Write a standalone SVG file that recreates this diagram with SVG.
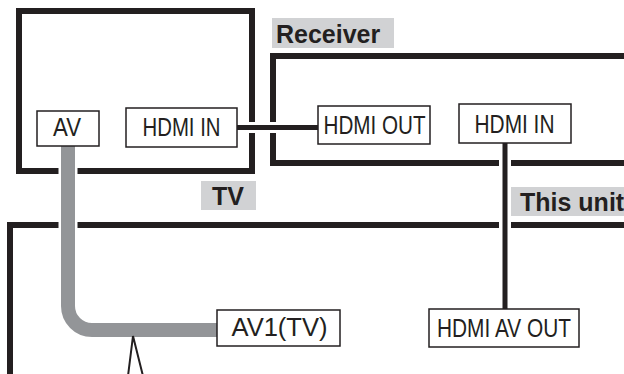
<svg xmlns="http://www.w3.org/2000/svg" width="624" height="374" viewBox="0 0 624 374">
<style>
.frame{fill:none;stroke:#231f20;stroke-width:6}
.port rect{fill:#fff;stroke:#231f20;stroke-width:1.5}
.port text{font-family:"Liberation Sans",Arial,sans-serif;font-size:26px;fill:#231f20;text-anchor:middle}
.tag rect{fill:#d1d2d4}
.tag text{font-family:"Liberation Sans",Arial,sans-serif;font-size:25px;font-weight:bold;fill:#231f20}
.halo{fill:none;stroke:#fff}
.hdmi{fill:none;stroke:#231f20;stroke-width:5}
.av{fill:none;stroke:#939598;stroke-width:14}
</style>
<rect width="624" height="374" fill="#fff"/>
<g id="tv">
<rect class="frame" x="19" y="11" width="233" height="160"/>
<g class="tag"><rect x="201" y="181" width="55" height="29"/><text x="212" y="205">TV</text></g>
</g>
<g id="receiver">
<rect class="frame" x="273" y="56" width="400" height="107"/>
<g class="tag"><rect x="272" y="18" width="122" height="30"/><text x="276" y="43">Receiver</text></g>
</g>
<g id="this-unit">
<path class="frame" d="M10,374 V225 H630"/>
<g class="tag"><rect x="510" y="187" width="120" height="29"/><text x="520" y="211">This unit</text></g>
</g>
<g id="connectors">
<path class="halo" stroke-width="19" d="M68,146 V306 A24,24 0 0 0 92,330 H217"/>
<path class="av" d="M68,146 V306 A24,24 0 0 0 92,330 H217"/>
<path class="halo" stroke-width="11" d="M237,127.5 H318"/>
<path class="hdmi" d="M237,127.5 H318"/>
<path class="halo" stroke-width="12" d="M505,143 V309"/>
<path class="hdmi" d="M505,143 V309"/>
<path fill="none" stroke="#231f20" stroke-width="2" d="M128,376 L133,336 L143,376"/>
</g>
<g id="tv-av" class="port"><rect x="37" y="111" width="62" height="35"/><text x="67" y="136" textLength="28" lengthAdjust="spacingAndGlyphs">AV</text></g>
<g id="tv-hdmi-in" class="port"><rect x="126" y="108" width="111" height="39"/><text x="181.5" y="136" textLength="78" lengthAdjust="spacingAndGlyphs">HDMI IN</text></g>
<g id="receiver-hdmi-out" class="port"><rect x="318" y="106" width="112" height="38"/><text x="374.5" y="134" textLength="102" lengthAdjust="spacingAndGlyphs">HDMI OUT</text></g>
<g id="receiver-hdmi-in" class="port"><rect x="459" y="104" width="112" height="39"/><text x="514.5" y="132.5" textLength="80" lengthAdjust="spacingAndGlyphs">HDMI IN</text></g>
<g id="unit-hdmi-av-out" class="port"><rect x="429" y="309" width="150" height="38"/><text x="504" y="336.5" textLength="134" lengthAdjust="spacingAndGlyphs">HDMI AV OUT</text></g>
<g id="unit-av1" class="port"><rect x="217" y="310" width="123" height="36"/><text x="279.5" y="336" textLength="96" lengthAdjust="spacingAndGlyphs">AV1(TV)</text></g>
</svg>
